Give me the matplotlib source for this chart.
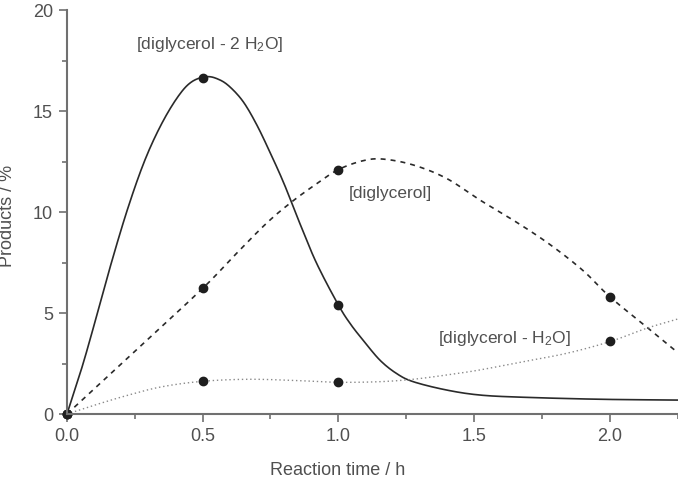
import numpy as np
import matplotlib
matplotlib.use('Agg')
from matplotlib import pyplot as plt

plt.rcParams['font.family'] = ['Liberation Sans', 'DejaVu Sans']
plt.rcParams['mathtext.fontset'] = 'custom'
plt.rcParams['mathtext.rm'] = 'Liberation Sans'
plt.rcParams['mathtext.default'] = 'regular'

# measured points (h, %)
t_pts = [0.0, 0.5, 1.0, 2.0]
anhydro2_pts = [0.0, 16.65, 5.4]          # [diglycerol - 2 H2O], no point at 2 h
diglycerol_pts = [0.0, 6.25, 12.1, 5.8]   # [diglycerol]
anhydro1_pts = [0.0, 1.65, 1.58, 3.6]     # [diglycerol - H2O]

# fitted curves
anhydro2_t = [0.0, 0.055, 0.104, 0.166, 0.227, 0.288, 0.35, 0.411, 0.46, 0.515, 0.56,
              0.6, 0.65, 0.7, 0.75, 0.8, 0.858, 0.92, 1.0, 1.045, 1.091, 1.153,
              1.214, 1.276, 1.398, 1.521, 1.68, 1.963, 2.25]
anhydro2_y = [0.0, 2.3, 4.6, 7.6, 10.3, 12.6, 14.4, 15.75, 16.45, 16.7, 16.56,
              16.2, 15.45, 14.3, 12.9, 11.4, 9.44, 7.46, 5.4, 4.45, 3.66, 2.67,
              2.01, 1.6, 1.19, 0.94, 0.83, 0.73, 0.69]

diglycerol_t = [0.0, 0.25, 0.5, 0.613, 0.735, 0.828, 0.92, 1.0, 1.091, 1.165, 1.276,
                1.398, 1.521, 1.656, 1.779, 1.902, 2.0, 2.135, 2.25]
diglycerol_y = [0.0, 3.1, 6.22, 7.79, 9.44, 10.5, 11.4, 12.1, 12.54, 12.62, 12.33,
                11.67, 10.6, 9.5, 8.4, 7.1, 5.81, 4.32, 3.05]

anhydro1_t = [0.0, 0.104, 0.227, 0.35, 0.5, 0.674, 0.858, 1.0, 1.153, 1.276, 1.398,
              1.521, 1.68, 1.84, 2.0, 2.135, 2.25]
anhydro1_y = [0.0, 0.45, 0.94, 1.35, 1.62, 1.72, 1.65, 1.57, 1.6, 1.72, 1.93,
              2.18, 2.59, 3.0, 3.58, 4.24, 4.7]


def smooth(xs, ys, n=12):
    # catmull-rom through the read points, only for drawing
    x = np.asarray(xs, float)
    y = np.asarray(ys, float)
    px = np.concatenate([[2 * x[0] - x[1]], x, [2 * x[-1] - x[-2]]])
    py = np.concatenate([[2 * y[0] - y[1]], y, [2 * y[-1] - y[-2]]])
    ox, oy = [], []
    s = np.linspace(0, 1, n, endpoint=False)
    for i in range(1, len(px) - 2):
        for P, out in ((px, ox), (py, oy)):
            p0, p1, p2, p3 = P[i - 1], P[i], P[i + 1], P[i + 2]
            out.extend(0.5 * (2 * p1 + (-p0 + p2) * s + (2 * p0 - 5 * p1 + 4 * p2 - p3) * s ** 2
                              + (-p0 + 3 * p1 - 3 * p2 + p3) * s ** 3))
    ox.append(x[-1])
    oy.append(y[-1])
    return ox, oy


txt = '#505050'
fig = plt.figure(figsize=(6.78, 4.84), dpi=100, facecolor='w')
ax = fig.add_axes([0.0988, 0.1446, 0.9005, 0.8347])

ax.plot(*smooth(anhydro2_t, anhydro2_y), color='#2a2a2a', lw=1.2, linestyle='-')
ax.plot(*smooth(diglycerol_t, diglycerol_y), color='#2a2a2a', lw=1.2, linestyle=(0, (3, 3)))
ax.plot(*smooth(anhydro1_t, anhydro1_y), color='#8a8a8a', lw=1.0, linestyle=(0, (1, 2)))

ax.plot(t_pts[:3], anhydro2_pts, 'o', color='#1e1e1e', ms=6, clip_on=False)
ax.plot(t_pts, diglycerol_pts, 'o', color='#1e1e1e', ms=6, clip_on=False)
ax.plot(t_pts, anhydro1_pts, 'o', color='#1e1e1e', ms=6, clip_on=False)

ax.text(0.527, 18.3, r'[diglycerol - 2 H$_2$O]', ha='center', va='center', fontsize=12.5, color=txt)
ax.text(1.19, 10.94, '[diglycerol]', ha='center', va='center', fontsize=12.5, color=txt)
ax.text(1.613, 3.76, r'[diglycerol - H$_2$O]', ha='center', va='center', fontsize=12.5, color=txt)

ax.set_xlim(0, 2.25)
ax.set_ylim(0, 20)
ax.set_xticks([0.0, 0.5, 1.0, 1.5, 2.0])
ax.set_xticklabels(['0.0', '0.5', '1.0', '1.5', '2.0'])
ax.set_xticks(np.arange(0.25, 2.3, 0.5), minor=True)
ax.set_yticks([0, 5, 10, 15, 20])
ax.set_yticks([2.5, 7.5, 12.5, 17.5], minor=True)

for s in ['top', 'right']:
    ax.spines[s].set_visible(False)
for s in ['left', 'bottom']:
    ax.spines[s].set_color('#707070')
    ax.spines[s].set_linewidth(1.5)
ax.tick_params(which='major', direction='out', length=6, width=1.2, color='#707070',
               labelsize=13, labelcolor=txt, pad=4)
ax.tick_params(which='minor', direction='out', length=3.5, width=1.2, color='#707070')

ax.set_xlabel('Reaction time / h', fontsize=13, color=txt)
ax.xaxis.set_label_coords(0.4435, -0.12)
ax.set_ylabel('Products / %', fontsize=13, color=txt)
ax.yaxis.set_label_coords(-0.084, 0.49)

plt.savefig('out.png')
plt.close()
